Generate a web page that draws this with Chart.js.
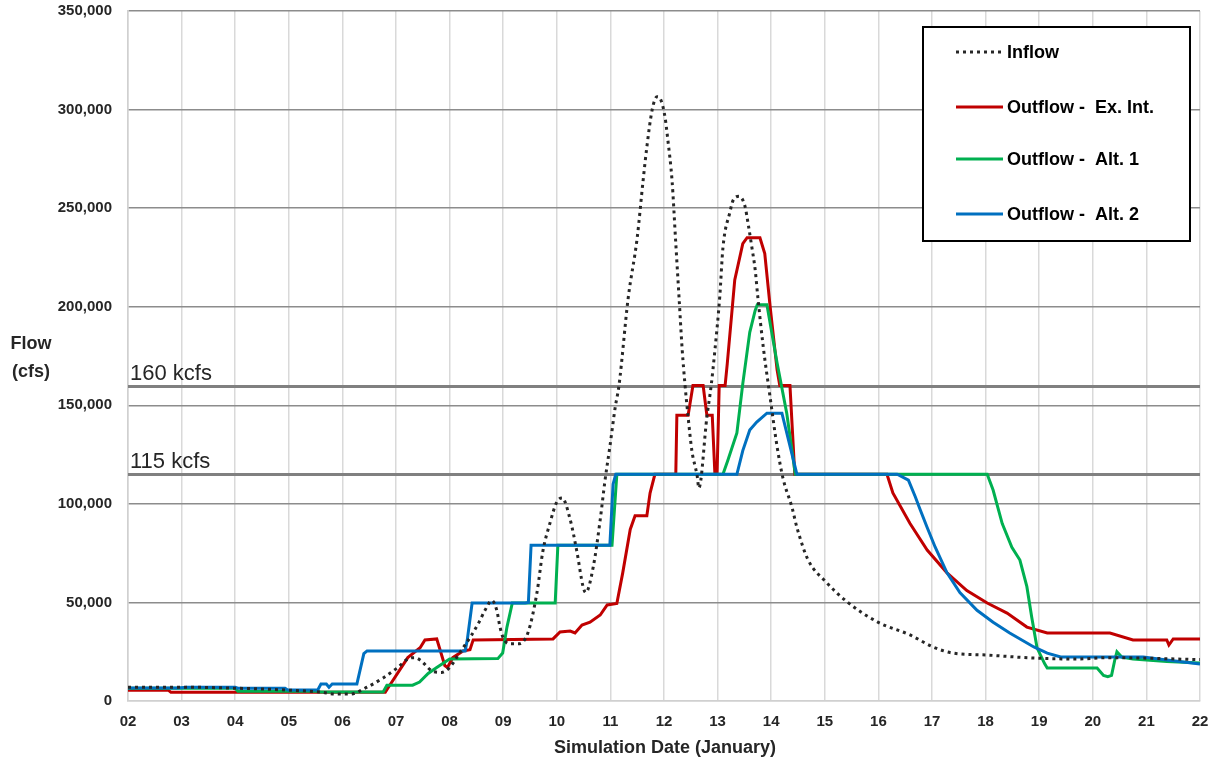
<!DOCTYPE html>
<html>
<head>
<meta charset="utf-8">
<script src="https://cdn.jsdelivr.net/npm/chart.js@4"></script>
<style>
  html, body { margin: 0; padding: 0; background: #fff; }
  #wrap { width: 1222px; height: 765px; }
</style>
</head>
<body>
<div id="wrap"><canvas id="myChart" width="1222" height="765"></canvas></div>
<script>
// 日付 (1月の日) と流量 (cfs)
const inflowDays = [2.0, 3.0, 4.0, 5.0, 5.6, 5.86, 6.14, 6.46, 6.76, 7.02, 7.26, 7.35, 7.45, 7.69, 7.85, 8.0, 8.2, 8.4, 8.55, 8.66, 8.79,
  8.88, 8.94, 9.0, 9.12, 9.28, 9.46, 9.63, 9.74, 9.87, 10.0, 10.1, 10.25, 10.38, 10.49, 10.54, 10.68, 10.81, 10.9, 10.99, 11.09, 11.16,
  11.33, 11.5, 11.61, 11.68, 11.78, 11.87, 11.94, 12.02, 12.07, 12.15, 12.22, 12.28, 12.34, 12.39, 12.45, 12.52, 12.62, 12.65,
  12.8, 12.88, 12.95, 13.04, 13.1, 13.23, 13.29, 13.4, 13.51, 13.57, 13.64, 13.7, 13.75, 13.85, 13.98, 14.11, 14.22, 14.39, 14.48,
  14.69, 15.0, 15.43, 15.99, 16.59, 17.02, 17.39, 18.03, 18.88, 19.71, 20.26, 22.0];
const inflowFlow = [7000, 7000, 6500, 5500, 4500, 3500, 3500, 7000, 11700, 16700, 21800, 22000, 20800, 15000, 14500, 17000, 25000, 33000, 40000, 46000, 51000,
  46000, 37500, 32000, 29000, 29000, 34500, 55000, 76000, 90000, 101000, 103000, 92000, 75000, 58000, 55000, 68000, 92000, 112000, 129000, 149000, 160000,
  204000, 235000, 264000, 281000, 300000, 306500, 305000, 296000, 285000, 264000, 232000, 205000, 178000, 161000, 144000, 127000, 114000, 108000,
  144000, 160000, 178000, 205000, 230000, 248000, 254000, 256000, 251000, 242000, 230000, 219000, 205000, 180000, 154000, 129000, 113000, 98000, 88000,
  71500, 61000, 50000, 40000, 33500, 27400, 24300, 23300, 21800, 21300, 22000, 21000];

const exIntDays = [2.0, 2.75, 2.8, 6.8, 6.85, 7.22, 7.45, 7.54, 7.76, 7.91, 7.96, 8.06, 8.25, 8.38, 8.44, 9.93, 10.06, 10.25, 10.34, 10.47, 10.62,
  10.81, 10.94, 11.12, 11.23, 11.37, 11.46, 11.68, 11.74, 11.83, 12.22, 12.24, 12.45, 12.54, 12.73, 12.8, 12.9, 12.95, 12.99, 13.03, 13.14,
  13.18, 13.32, 13.47, 13.55, 13.79, 13.88, 13.98, 14.11, 14.16, 14.35, 14.44, 16.16, 16.27, 16.59, 16.91, 17.28, 17.65, 18.03, 18.4,
  18.77, 19.15, 20.32, 20.75, 21.38, 21.42, 21.5, 22.0];
const exIntFlow = [5500, 5500, 4500, 4500, 6600, 22000, 27000, 31000, 31500, 18000, 17000, 22000, 25400, 26000, 31000, 31500, 35000, 35500, 34500, 38500, 40000,
  43600, 48700, 49500, 65000, 87000, 94000, 94000, 105500, 115000, 115000, 145000, 145000, 160000, 160000, 145000, 145000, 115000, 115000, 160000, 160000,
  171000, 213600, 232000, 235000, 235000, 227000, 200000, 168000, 160000, 160000, 115000, 115000, 105500, 90000, 76600, 65000, 56000, 49700, 44600,
  37500, 34500, 34500, 31000, 31000, 28400, 31500, 31500];

const alt1Days = [2.0, 4.0, 4.05, 5.5, 5.6, 6.76, 6.83, 7.31, 7.44, 7.6, 7.76, 8.0, 8.9, 8.99, 9.07, 9.17, 9.97, 10.02, 11.03, 11.12,
  13.1, 13.19, 13.36, 13.47, 13.6, 13.7, 13.74, 13.92, 14.11, 14.29, 14.45, 18.03, 18.14, 18.31, 18.49, 18.64, 18.77, 18.86, 18.96,
  19.1, 19.15, 20.08, 20.2, 20.28, 20.35, 20.41, 20.45, 20.54, 20.75, 21.38, 22.0];
const alt1Flow = [6500, 6500, 5000, 5000, 4600, 4600, 8000, 8000, 9600, 14000, 17000, 21300, 21500, 24300, 37500, 49700, 49700, 79000, 79000, 115000,
  115000, 122000, 136000, 161000, 187000, 198000, 201000, 201000, 171500, 146000, 115000, 115000, 107000, 90000, 78000, 71500, 58000, 42600, 27000,
  19000, 16700, 16700, 13000, 12300, 13000, 20800, 25000, 22300, 21300, 20000, 19300];

const alt2Days = [2.0, 2.93, 3.1, 4.0, 4.05, 4.93, 4.98, 5.54, 5.6, 5.7, 5.75, 5.81, 6.27, 6.4, 6.46, 8.29, 8.33, 8.42, 9.41, 9.47, 9.52,
  10.99, 11.05, 11.1, 13.36, 13.47, 13.6, 13.73, 13.92, 14.2, 14.48, 16.35, 16.56, 16.69, 16.78, 16.91, 17.06, 17.28, 17.52, 17.84,
  18.14, 18.45, 18.9, 19.15, 19.4, 20.94, 21.38, 22.0];
const alt2Flow = [6600, 6600, 7000, 7000, 6500, 6500, 5600, 5600, 8600, 8600, 7000, 8600, 8600, 24000, 25400, 25400, 31000, 49700, 49700, 50000, 79000,
  79000, 110000, 115000, 115000, 127000, 137500, 141500, 146000, 146000, 115000, 115000, 112000, 103500, 97000, 88000, 78000, 65000, 55000, 46000,
  40000, 34500, 27400, 24300, 22300, 22300, 20800, 18800];

const seriesNames = ['Inflow', 'Outflow -  Ex. Int.', 'Outflow -  Alt. 1', 'Outflow -  Alt. 2'];
const seriesColors = ['#262626', '#c00000', '#00b050', '#0070c0'];

// 基準線 (160 kcfs / 115 kcfs)
const limitValues = [160000, 115000];
const limitLabels = ['160 kcfs', '115 kcfs'];

const yTicks = [0, 50000, 100000, 150000, 200000, 250000, 300000, 350000];

function toPoints(days, flows) {
  return days.map((d, i) => ({ x: d, y: flows[i] }));
}

const limitLines = {
  id: 'limitLines',
  beforeDatasetsDraw(chart) {
    const ctx = chart.ctx;
    const area = chart.chartArea;
    const y = chart.scales.y;
    ctx.save();
    limitValues.forEach((v, i) => {
      const py = Math.round(y.getPixelForValue(v)) + 0.5;
      ctx.strokeStyle = '#808080';
      ctx.lineWidth = 3;
      ctx.beginPath();
      ctx.moveTo(area.left, py);
      ctx.lineTo(area.right, py);
      ctx.stroke();
      ctx.fillStyle = '#262626';
      ctx.font = '22px "Liberation Sans", Arial, sans-serif';
      ctx.textAlign = 'left';
      ctx.textBaseline = 'alphabetic';
      ctx.fillText(limitLabels[i], area.left + 2, py - 7);
    });
    ctx.restore();
  }
};

const boxLegend = {
  id: 'boxLegend',
  afterDraw(chart) {
    const ctx = chart.ctx;
    const area = chart.chartArea;
    ctx.save();
    // 凡例の枠
    const bx = 923, by = 27, bw = 267, bh = 214;
    ctx.fillStyle = '#fff';
    ctx.fillRect(bx, by, bw, bh);
    ctx.strokeStyle = '#000';
    ctx.lineWidth = 2;
    ctx.strokeRect(bx, by, bw, bh);
    const rows = [52, 107, 159, 214];
    chart.data.datasets.forEach((ds, i) => {
      const ry = rows[i];
      ctx.strokeStyle = ds.borderColor;
      ctx.lineWidth = 3;
      ctx.setLineDash(ds.borderDash || []);
      ctx.beginPath();
      ctx.moveTo(956, ry);
      ctx.lineTo(1003, ry);
      ctx.stroke();
      ctx.setLineDash([]);
      ctx.fillStyle = '#000';
      ctx.font = 'bold 18px "Liberation Sans", Arial, sans-serif';
      ctx.textAlign = 'left';
      ctx.textBaseline = 'middle';
      ctx.fillText(ds.label, 1007, ry + 1);
    });

    // 軸タイトル
    ctx.fillStyle = '#262626';
    ctx.font = 'bold 18px "Liberation Sans", Arial, sans-serif';
    ctx.textAlign = 'center';
    ctx.textBaseline = 'middle';
    ctx.fillText('Simulation Date (January)', (area.left + area.right) / 2 + 1, 748);
    ctx.fillText('Flow', 31, 344);
    ctx.fillText('(cfs)', 31, 372);
    ctx.restore();
  }
};

window.onload = function() {
  const ctx = document.getElementById('myChart').getContext('2d');
  new Chart(ctx, {
    type: 'line',
    data: {
      datasets: [
        {
          label: seriesNames[0],
          data: toPoints(inflowDays, inflowFlow),
          borderColor: seriesColors[0],
          borderWidth: 3,
          borderDash: [3, 4],
          cubicInterpolationMode: 'monotone',
          pointRadius: 0,
          order: 0
        },
        {
          label: seriesNames[1],
          data: toPoints(exIntDays, exIntFlow),
          borderColor: seriesColors[1],
          borderWidth: 3,
          pointRadius: 0,
          order: 3
        },
        {
          label: seriesNames[2],
          data: toPoints(alt1Days, alt1Flow),
          borderColor: seriesColors[2],
          borderWidth: 3,
          pointRadius: 0,
          order: 2
        },
        {
          label: seriesNames[3],
          data: toPoints(alt2Days, alt2Flow),
          borderColor: seriesColors[3],
          borderWidth: 3,
          pointRadius: 0,
          order: 1
        }
      ]
    },
    options: {
      responsive: false,
      animation: false,
      layout: { padding: { top: 11, right: 22, left: 0, bottom: 0 } },
      plugins: {
        legend: { display: false },
        tooltip: { enabled: false }
      },
      scales: {
        x: {
          type: 'linear',
          min: 2,
          max: 22,
          afterFit: s => { s.height = 64; },
          ticks: {
            stepSize: 1,
            padding: 0,
            color: '#262626',
            font: { family: '"Liberation Sans", Arial, sans-serif', size: 15, weight: 'bold' },
            callback: v => String(v).padStart(2, '0'),
            maxRotation: 0
          },
          grid: { color: '#d9d9d9', lineWidth: 1.5, drawTicks: true, tickLength: 12, tickColor: 'rgba(0,0,0,0)' },
          border: { color: '#d0d0d0', width: 1.5 }
        },
        y: {
          min: 0,
          max: 350000,
          afterFit: s => { s.width = 128; },
          afterBuildTicks: s => { s.ticks = yTicks.map(v => ({ value: v })); },
          ticks: {
            padding: 0,
            color: '#262626',
            font: { family: '"Liberation Sans", Arial, sans-serif', size: 15, weight: 'bold' },
            callback: v => v.toLocaleString('en-US')
          },
          grid: {
            color: c => (c.tick && c.tick.value === 0) ? '#d0d0d0' : '#8c8c8c',
            lineWidth: 1.5,
            drawTicks: true,
            tickLength: 16,
            tickColor: 'rgba(0,0,0,0)'
          },
          border: { color: '#d0d0d0', width: 1.5 }
        }
      }
    },
    plugins: [limitLines, boxLegend]
  });
};
</script>
</body>
</html>
